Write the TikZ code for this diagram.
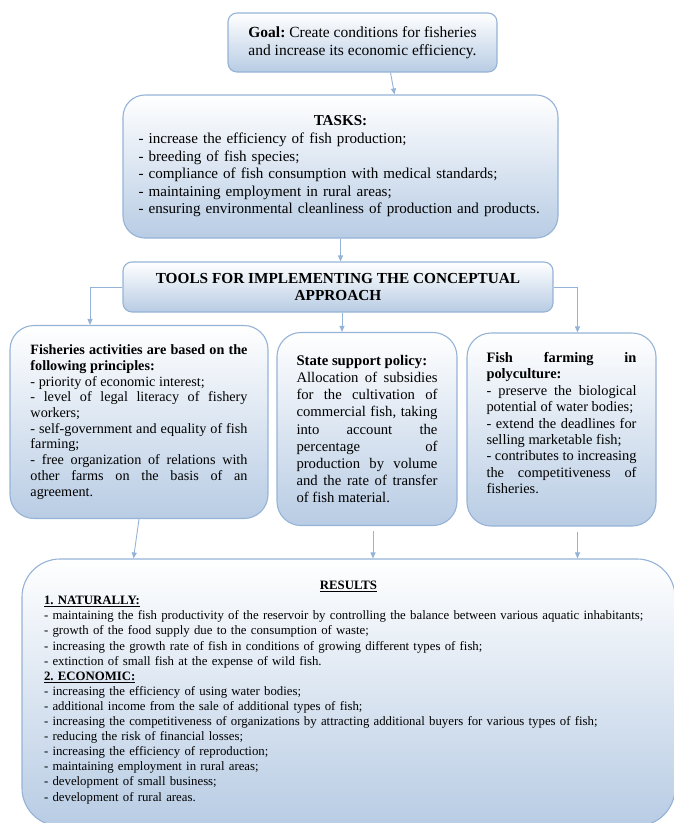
\documentclass[tikz,border=0pt]{standalone}
\usepackage{fontspec}
\setmainfont{Liberation Serif}
\usetikzlibrary{arrows.meta}
\definecolor{edgeblue}{RGB}{149,179,215}
\definecolor{fillblue}{RGB}{184,204,228}
\tikzset{
  box/.style={draw=edgeblue, line width=1.1pt, top color=white,
    middle color=fillblue!25, bottom color=fillblue, inner sep=0pt},
  sidebox/.style={box, rounded corners=24pt, minimum height=193pt,
    align=justify},
  arr/.style={draw=edgeblue, line width=0.9pt,
    -{Triangle[length=6pt,width=5pt]}},
}
\newcommand{\fsz}[2]{\fontsize{#1}{#2}\selectfont\frenchspacing
  \hyphenpenalty=10000\tolerance=10000\relax}
\begin{document}
\begin{tikzpicture}[x=1pt,y=-1pt]
  \useasboundingbox (0,0) rectangle (673,823);
  \node[box, rounded corners=9pt, minimum width=269pt, minimum height=59pt,
    align=center, font=\fsz{15.5}{18}] (goal) at (362.5,42.5)
    {\textbf{Goal:} Create conditions for fisheries\\and increase its economic efficiency.};
  \node[box, rounded corners=22pt, minimum width=435pt, minimum height=143pt,
    text width=404pt, align=left, font=\fsz{15.1}{17.6}] (tasks) at (340.5,166.5)
    {{\centering\textbf{TASKS:}\par}
    - increase the efficiency of fish production;\\
    - breeding of fish species;\\
    - compliance of fish consumption with medical standards;\\
    - maintaining employment in rural areas;\\
    - ensuring environmental cleanliness of production and products.\par\vspace{3pt}};
  \node[box, rounded corners=9pt, minimum width=430pt, minimum height=50pt,
    align=center, font=\bfseries\fsz{15.3}{17}] (tools) at (338,287)
    {TOOLS FOR IMPLEMENTING THE CONCEPTUAL\\APPROACH};
  \node[sidebox, minimum width=258pt, text width=217pt,
    font=\fsz{14.2}{15.7}] (principles) at (139,422)
    {\textbf{Fisheries activities are based on the}\linebreak
    \textbf{following principles:}\\
    - priority of economic interest;\\
    - level of legal literacy of fishery\linebreak workers;\\
    - self-government and equality of fish\linebreak farming;\\
    - free organization of relations with\linebreak other farms on the basis of an\linebreak agreement.\par\vspace{2pt}};
  \node[sidebox, minimum width=180pt, text width=141pt,
    font=\fsz{14.7}{17.1}] (support) at (367,429)
    {\textbf{State support policy:}\\
    Allocation of subsidies\linebreak for the cultivation of\linebreak
    commercial fish, taking\linebreak into account the\linebreak
    percentage of\linebreak production by volume\linebreak
    and the rate of transfer\linebreak of fish material.};
  \node[sidebox, minimum width=189pt, text width=150pt, text depth=144pt,
    font=\fsz{14.4}{16.4}] (poly) at (561.5,429.5)
    {\textbf{Fish farming in}\linebreak \textbf{polyculture:}\\
    - preserve the biological\linebreak potential of water bodies;\\
    - extend the deadlines for\linebreak selling marketable fish;\\
    - contributes to increasing\linebreak the competitiveness of\linebreak fisheries.};
  \node[box, rounded corners=38pt, minimum width=653pt, minimum height=267pt,
    text width=609pt, align=left, font=\fsz{12.8}{15.1}] (results) at (348.5,692.5)
    {{\centering\underline{\textbf{RESULTS}}\par}
    \underline{\textbf{1. NATURALLY:}}\\
    - maintaining the fish productivity of the reservoir by controlling the balance between various aquatic inhabitants;\\
    - growth of the food supply due to the consumption of waste;\\
    - increasing the growth rate of fish in conditions of growing different types of fish;\\
    - extinction of small fish at the expense of wild fish.\\
    \underline{\textbf{2. ECONOMIC:}}\\
    - increasing the efficiency of using water bodies;\\
    - additional income from the sale of additional types of fish;\\
    - increasing the competitiveness of organizations by attracting additional buyers for various types of fish;\\
    - reducing the risk of financial losses;\\
    - increasing the efficiency of reproduction;\\
    - maintaining employment in rural areas;\\
    - development of small business;\\
    - development of rural areas.};
  \draw[arr] ([xshift=28pt]goal.south) -- ([xshift=54pt]tasks.north);
  \draw[arr] (tasks.south) -- (tasks.south |- tools.north);
  \draw[arr] (tools.west) -| ([xshift=-49pt]principles.north);
  \draw[arr] ([xshift=4pt]tools.south) -- ([xshift=4pt]tools.south |- support.north);
  \draw[arr] (tools.east) -| ([xshift=16pt]poly.north);
  \draw[arr] (principles.south) -- ([xshift=-215pt]results.north);
  \draw[arr] ([xshift=6pt,yshift=-5pt]support.south) -- ([xshift=6pt]support.south |- results.north);
  \draw[arr] ([xshift=16pt,yshift=-5pt]poly.south) -- ([xshift=16pt]poly.south |- results.north);
\end{tikzpicture}
\end{document}
